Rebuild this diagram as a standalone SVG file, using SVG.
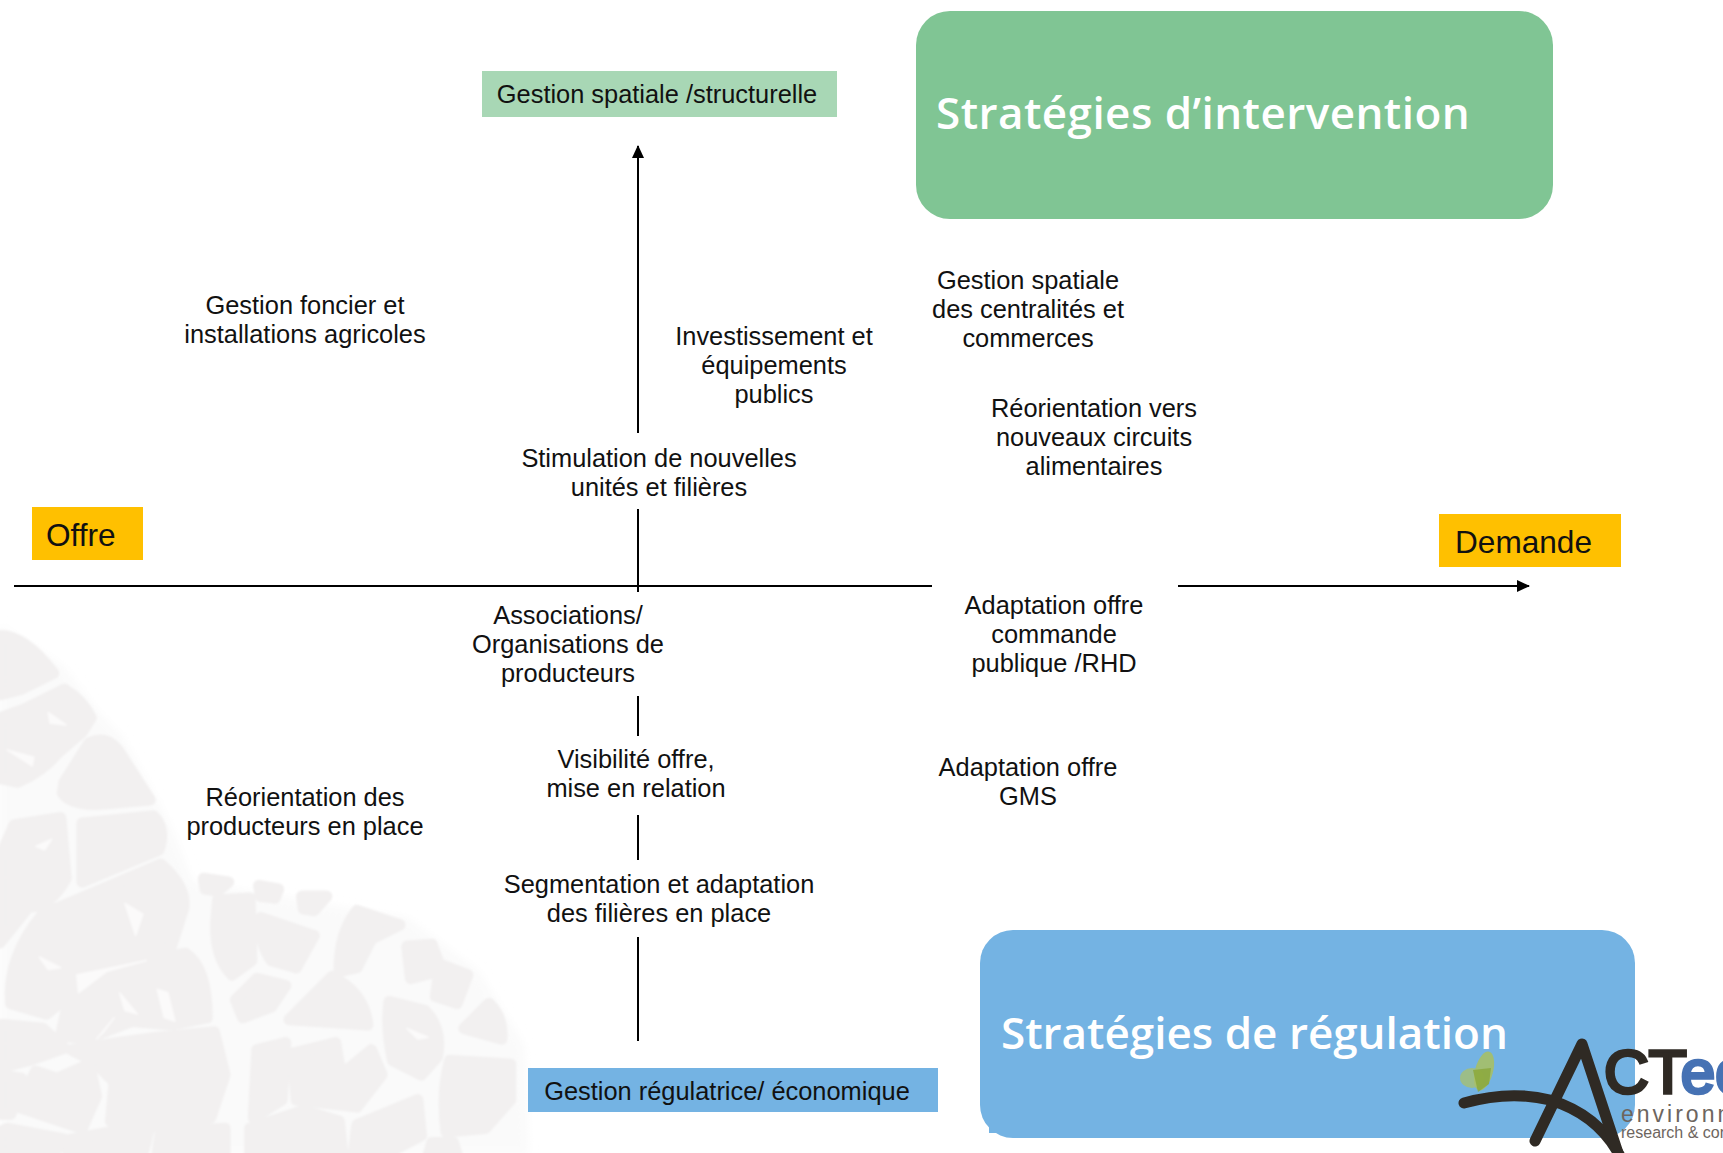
<svg xmlns="http://www.w3.org/2000/svg" width="1723" height="1153" viewBox="0 0 1723 1153">
<style>
.t{font-family:"Liberation Sans",Arial,sans-serif;font-size:25.4px;fill:#111;text-anchor:middle}
.big{font-family:"Liberation Sans",Arial,sans-serif;font-size:31.6px;fill:#111}
.h{font-family:"Open Sans",sans-serif;font-weight:600;font-size:44px;fill:#fff}
.c{stroke:#000;stroke-width:2;fill:none}
.b{fill:#f2f0f0;stroke:#f2f0f0;stroke-width:32;stroke-linejoin:round}
.w{fill:#fbfafa;stroke:#fbfafa;stroke-width:4;stroke-linejoin:round}
.l{stroke:#2f2a24;fill:none;stroke-linecap:round;stroke-linejoin:round}
</style>
<defs>
<marker id="a" markerWidth="13" markerHeight="13" refX="12" refY="6" orient="auto" markerUnits="userSpaceOnUse"><path d="M0 0L13 6L0 12Z" fill="#000"/></marker>
<filter id="soft" x="-5%" y="-5%" width="110%" height="110%"><feGaussianBlur stdDeviation="3"/></filter>
<filter id="soft2" x="-5%" y="-5%" width="110%" height="110%"><feGaussianBlur stdDeviation="14"/></filter>
</defs>
<rect width="1723" height="1153" fill="#fff"/>
<g id="background" transform="translate(0,600) scale(.357)">
<path fill="#fafafa" filter="url(#soft2)" d="M0 70L180 190L280 320L340 380L440 560L480 640L540 790L1140 890L1340 1040L1470 1250L1480 1553H0Z"/>
<g filter="url(#soft)">
<path class="b" d="M0 100Q70 100 150 205L60 250L0 265Z"/>
<path class="b" d="M70 305L180 250Q230 280 255 330L230 370L160 430Q120 480 50 510L0 500V330Z"/>
<path class="b" d="M180 510L250 400Q300 380 330 420L420 560L300 570Q200 580 175 540Z"/>
<path class="b" d="M40 630L170 610L185 780Q140 860 80 860L0 960V720Z"/>
<path class="b" d="M230 625L430 605Q465 640 445 700L230 790Z"/>
<path class="b" d="M120 880L450 740Q520 800 515 860L480 970L300 1050L225 1050L215 1090L130 1160L30 1130Q20 1000 120 880Z"/>
<path class="b" d="M240 1040L400 1010L520 990Q580 1030 580 1170L480 1190L370 1180L240 1230L170 1220L190 1130Z"/>
<path class="b" d="M570 780L640 790L610 815L575 810Z"/>
<path class="b" d="M725 800L780 810L770 835L730 830Z"/>
<path class="b" d="M845 830L915 830L880 870L850 865Z"/>
<path class="b" d="M610 840L700 835L705 1010L650 1050Q600 1000 605 900Z"/>
<path class="b" d="M730 890L880 940L830 1030L760 1010Q725 960 730 890Z"/>
<path class="b" d="M1000 870L1120 910L1040 950L1000 1030L950 1040Q950 930 1000 870Z"/>
<path class="b" d="M1140 970L1210 965L1230 1020L1310 1050L1280 1130L1220 1110L1230 1040L1150 1060Z"/>
<path class="b" d="M660 1120L720 1060L800 1080L760 1140L680 1170Z"/>
<path class="b" d="M930 1055Q1020 1100 1030 1190L810 1175Z"/>
<path class="b" d="M1090 1125L1190 1150Q1240 1200 1225 1280L1180 1330L1100 1290Q1080 1200 1090 1125Z"/>
<path class="b" d="M1370 1130Q1410 1170 1405 1230L1300 1200Z"/>
<path class="b" d="M20 1190L120 1200L180 1255L80 1290L0 1310V1190Z"/>
<path class="b" d="M200 1260L330 1240L440 1225L600 1210L630 1330L590 1450L470 1480L310 1460L320 1350L260 1290Z"/>
<path class="b" d="M100 1320L160 1340L250 1300L270 1390L230 1480L50 1420Z"/>
<path class="b" d="M0 1330L60 1340L30 1440L0 1440Z"/>
<path class="b" d="M720 1260L800 1240L790 1400L710 1450Z"/>
<path class="b" d="M820 1270L940 1240L955 1330L1040 1260L1070 1330L1000 1420L830 1400Z"/>
<path class="b" d="M1260 1290L1430 1300L1430 1400L1360 1480L1250 1490Q1235 1380 1260 1290Z"/>
<path class="b" d="M1000 1470L1170 1400L1180 1500L1080 1553H990Z"/>
<path class="b" d="M700 1480L850 1430L950 1460L960 1553H700Z"/>
<path class="b" d="M200 1510L420 1470L400 1553H190Z"/>
<path class="b" d="M450 1490L630 1480L630 1553H440Z"/>
<path class="b" d="M20 1480L180 1510L150 1553H0V1490Z"/>
<path class="b" d="M1210 1520L1270 1520L1280 1553H1200Z"/>
<path class="w" d="M135 315L185 350L140 345ZM350 850L400 880L380 940ZM110 1000L170 1030L135 1035ZM215 1050L410 1010L300 1040L220 1100ZM335 1100L385 1160L350 1150ZM440 1090L470 1100L490 1180L460 1170ZM20 420L95 440L90 465ZM100 690L145 670L125 700ZM290 1210L320 1170L270 1230ZM1140 1200L1200 1225L1170 1230ZM130 1400Z"/>
</g>
</g>
<g id="connectors">
<path class="c" d="M14 586H932"/>
<path class="c" d="M1178 586H1529" marker-end="url(#a)"/>
<path class="c" d="M638 433V146" marker-end="url(#a)"/>
<path class="c" d="M638 509V592"/>
<path class="c" d="M638 696V736"/>
<path class="c" d="M638 815V860"/>
<path class="c" d="M638 937V1041"/>
</g>
<g id="strategies-intervention"><rect x="916" y="11" width="637" height="208" rx="34" fill="#80c594"/><text class="h" x="936" y="129" letter-spacing=".45">Stratégies d’intervention</text></g>
<g id="strategies-regulation"><rect x="980" y="930" width="655" height="208" rx="33" fill="#74b3e3"/><rect x="989" y="1124" width="14" height="9" fill="#74b3e3"/><text class="h" x="1001" y="1049">Stratégies de régulation</text></g>
<g id="gestion-spatiale"><rect x="482" y="71" width="355" height="46" fill="#a8d7b5"/><text class="t" x="657" y="103">Gestion spatiale /structurelle</text></g>
<g id="gestion-regulatrice"><rect x="528" y="1068" width="410" height="44" fill="#74b3e3"/><text class="t" x="727" y="1100">Gestion régulatrice/ économique</text></g>
<g id="offre"><rect x="32" y="507" width="111" height="53" fill="#ffc000"/><text class="big" x="46" y="546">Offre</text></g>
<g id="demande"><rect x="1439" y="514" width="182" height="53" fill="#ffc000"/><text class="big" x="1455" y="553">Demande</text></g>
<g id="n1"><text class="t" x="305" y="314">Gestion foncier et</text><text class="t" x="305" y="343">installations agricoles</text></g>
<g id="n2"><text class="t" x="774" y="345">Investissement et</text><text class="t" x="774" y="374">équipements</text><text class="t" x="774" y="403">publics</text></g>
<g id="n3"><text class="t" x="1028" y="289">Gestion spatiale</text><text class="t" x="1028" y="318">des centralités et</text><text class="t" x="1028" y="347">commerces</text></g>
<g id="n4"><text class="t" x="1094" y="417">Réorientation vers</text><text class="t" x="1094" y="446">nouveaux circuits</text><text class="t" x="1094" y="475">alimentaires</text></g>
<g id="n5"><text class="t" x="659" y="467">Stimulation de nouvelles</text><text class="t" x="659" y="496">unités et filières</text></g>
<g id="n6"><text class="t" x="568" y="624">Associations/</text><text class="t" x="568" y="653">Organisations de</text><text class="t" x="568" y="682">producteurs</text></g>
<g id="n7"><text class="t" x="1054" y="614">Adaptation offre</text><text class="t" x="1054" y="643">commande</text><text class="t" x="1054" y="672">publique /RHD</text></g>
<g id="n8"><text class="t" x="636" y="768">Visibilité offre,</text><text class="t" x="636" y="797">mise en relation</text></g>
<g id="n9"><text class="t" x="305" y="806">Réorientation des</text><text class="t" x="305" y="835">producteurs en place</text></g>
<g id="n10"><text class="t" x="1028" y="776">Adaptation offre</text><text class="t" x="1028" y="805">GMS</text></g>
<g id="n11"><text class="t" x="659" y="893">Segmentation et adaptation</text><text class="t" x="659" y="922">des filières en place</text></g>
<g id="logo">
<ellipse cx="1484" cy="1071" rx="9" ry="20" transform="rotate(15 1484 1071)" fill="#a9bf5f" opacity=".85"/>
<ellipse cx="1472" cy="1078" rx="12" ry="10" fill="#a9c06a" opacity=".75"/>
<path d="M1473 1070L1491 1068L1489 1084L1478 1092Z" fill="#8aa63a" opacity=".8"/>
<path class="l" stroke-width="11" d="M1464 1103Q1510 1090 1550 1100Q1600 1115 1622 1160"/>
<path class="l" stroke-width="11" d="M1535 1141L1582 1044L1618 1153"/>
<text x="1604" y="1093" font-family="'Liberation Sans',Arial,sans-serif" font-size="62" stroke-width="3.5" stroke="#2f2a24" fill="#2f2a24">CT<tspan fill="#4672b4" stroke="#4672b4" dx="1">eo</tspan></text>
<text x="1621" y="1122" font-family="'Liberation Sans',Arial,sans-serif" font-size="23" letter-spacing="3" fill="#6d655e">environn</text>
<text x="1621" y="1138" font-family="'Liberation Sans',Arial,sans-serif" font-size="16" fill="#6d655e">research &amp; con</text>
</g>
</svg>
